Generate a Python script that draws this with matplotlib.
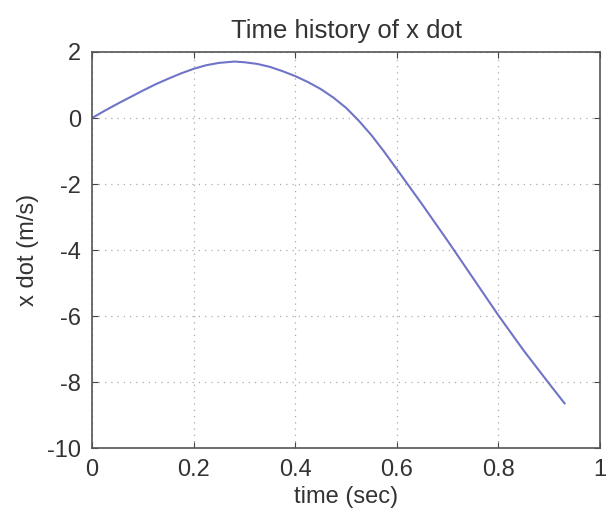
import matplotlib
matplotlib.use("Agg")
import matplotlib.pyplot as plt

time_sec = [0.0, 0.025, 0.05, 0.075, 0.1, 0.125, 0.15, 0.175, 0.2, 0.225, 0.25, 0.28,
            0.3, 0.325, 0.35, 0.375, 0.4, 0.425, 0.45, 0.475, 0.5, 0.525, 0.55, 0.575,
            0.6, 0.65, 0.7, 0.75, 0.8, 0.85, 0.9, 0.93]
x_dot = [0.0, 0.22, 0.43, 0.63, 0.83, 1.02, 1.19, 1.35, 1.49, 1.60, 1.67, 1.71,
         1.69, 1.64, 1.55, 1.42, 1.27, 1.09, 0.88, 0.62, 0.31, -0.08, -0.52, -1.02,
         -1.55, -2.62, -3.72, -4.85, -5.98, -7.05, -8.05, -8.64]

x_ticks = [0, 0.2, 0.4, 0.6, 0.8, 1]
x_ticklabels = ["0", "0.2", "0.4", "0.6", "0.8", "1"]
y_ticks = [-10, -8, -6, -4, -2, 0, 2]
y_ticklabels = ["-10", "-8", "-6", "-4", "-2", "0", "2"]

plt.rcParams['font.family'] = ['Liberation Sans', 'DejaVu Sans']
text_color = "#333333"

fig = plt.figure(figsize=(6.13, 5.2), dpi=100)
ax = fig.add_axes([0.150, 0.138, 0.829, 0.762])
ax.plot(time_sec, x_dot, color="#6f74c8", linewidth=1.5)

ax.set_xlim(0, 1)
ax.set_ylim(-10, 2)
ax.set_xticks(x_ticks)
ax.set_xticklabels(x_ticklabels)
ax.set_yticks(y_ticks)
ax.set_yticklabels(y_ticklabels)
ax.grid(True, linestyle=(0, (1, 4)), color="#aaaaaa", linewidth=0.9)
ax.tick_params(direction="in", length=4, labelsize=17, colors="#444444",
               labelcolor=text_color, top=True, right=True, pad=8)
for s in ax.spines.values():
    s.set_color("#555555")
    s.set_linewidth(1.2)

ax.set_title("Time history of x dot", fontsize=18.5, color=text_color, pad=10)
ax.set_xlabel("time (sec)", fontsize=17, color=text_color, labelpad=3)
ax.set_ylabel("x dot (m/s)", fontsize=17, color=text_color, labelpad=6)

fig.savefig("out.png", dpi=100)
